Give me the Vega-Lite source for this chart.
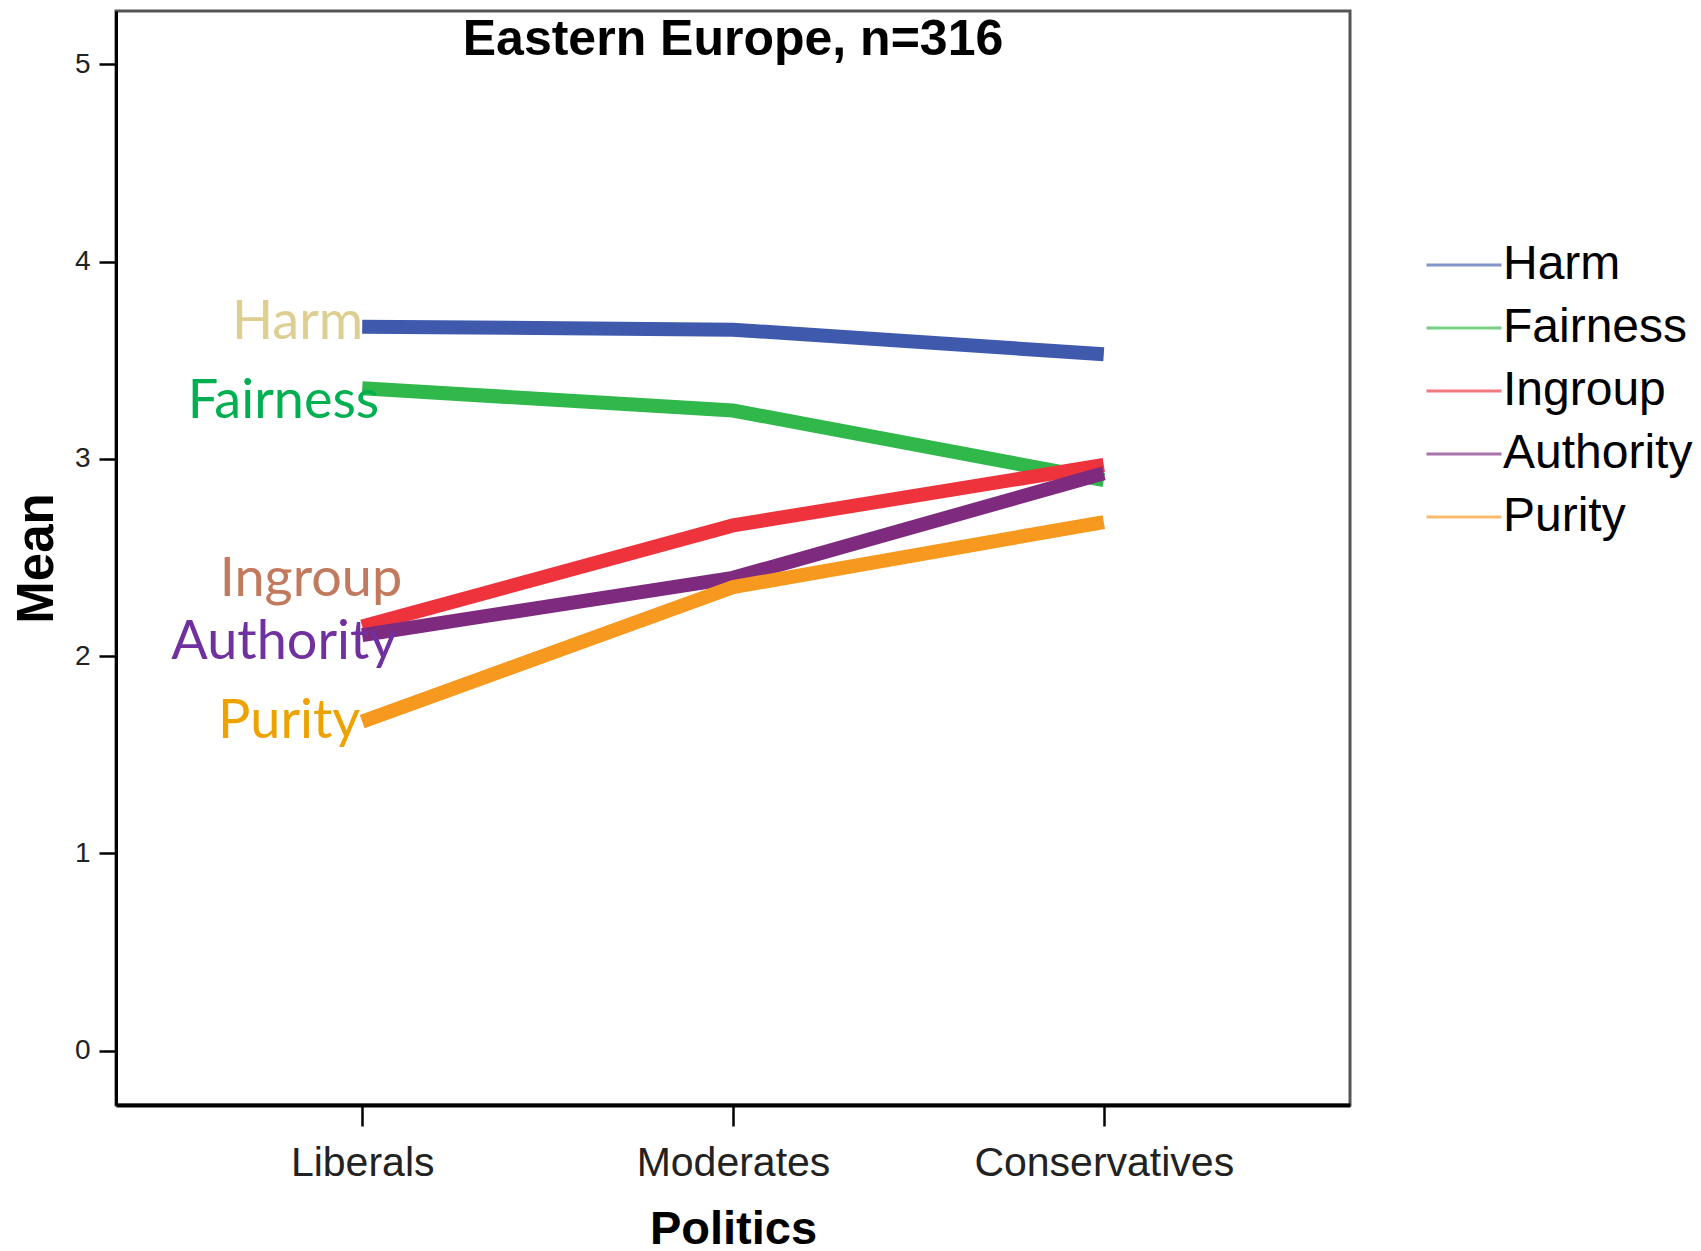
{
  "$schema": "https://vega.github.io/schema/vega-lite/v6.json",
  "width": 1234,
  "height": 1094,
  "autosize": {"type": "none"},
  "padding": {"left": 116, "top": 11, "right": 351, "bottom": 146},
  "background": "white",
  "title": {"text": "Eastern Europe, n=316", "font": "Liberation Sans", "fontSize": 50, "fontWeight": "bold", "color": "black", "anchor": "middle", "baseline": "alphabetic", "offset": -94},
  "config": {"view": {"stroke": "#555", "strokeWidth": 3}, "font": "Liberation Sans"},
  "datasets": {
    "means": [
      {"foundation": "Harm", "politics": "Liberals", "mean": 3.67},
      {"foundation": "Harm", "politics": "Moderates", "mean": 3.655},
      {"foundation": "Harm", "politics": "Conservatives", "mean": 3.53},
      {"foundation": "Fairness", "politics": "Liberals", "mean": 3.358},
      {"foundation": "Fairness", "politics": "Moderates", "mean": 3.245},
      {"foundation": "Fairness", "politics": "Conservatives", "mean": 2.893},
      {"foundation": "Ingroup", "politics": "Liberals", "mean": 2.15},
      {"foundation": "Ingroup", "politics": "Moderates", "mean": 2.663},
      {"foundation": "Ingroup", "politics": "Conservatives", "mean": 2.969},
      {"foundation": "Authority", "politics": "Liberals", "mean": 2.107},
      {"foundation": "Authority", "politics": "Moderates", "mean": 2.397},
      {"foundation": "Authority", "politics": "Conservatives", "mean": 2.927},
      {"foundation": "Purity", "politics": "Liberals", "mean": 1.668},
      {"foundation": "Purity", "politics": "Moderates", "mean": 2.35},
      {"foundation": "Purity", "politics": "Conservatives", "mean": 2.68}
    ],
    "labels": [
      {"label": "Harm", "politics": "Liberals", "mean": 3.606},
      {"label": "Fairness", "politics": "Liberals", "mean": 3.206},
      {"label": "Ingroup", "politics": "Liberals", "mean": 2.307},
      {"label": "Authority", "politics": "Liberals", "mean": 1.986},
      {"label": "Purity", "politics": "Liberals", "mean": 1.585}
    ]
  },
  "layer": [
    {
      "data": {"name": "means"},
      "mark": {"type": "line", "strokeWidth": 14, "strokeCap": "butt"},
      "encoding": {
        "x": {
          "field": "politics", "type": "nominal",
          "scale": {"type": "point", "domain": ["Liberals", "Moderates", "Conservatives"], "padding": 0.664},
          "axis": {"title": "Politics", "titleFont": "Liberation Sans", "titleFontSize": 47, "titleFontWeight": "bold", "titleColor": "black", "titleBaseline": "alphabetic", "titleY": 138, "labelFont": "Liberation Sans", "labelFontSize": 41, "labelColor": "#222", "labelAngle": 0, "labelPadding": 17, "labelLimit": 0, "tickSize": 21, "tickWidth": 2.5, "tickColor": "black", "domainColor": "black", "domainWidth": 4, "grid": false}
        },
        "y": {
          "field": "mean", "type": "quantitative",
          "scale": {"domain": [-0.2747, 5.27], "nice": false, "zero": false},
          "axis": {"title": "Mean", "titleFont": "Liberation Sans", "titleFontSize": 51, "titleFontWeight": "bold", "titleColor": "black", "titleBaseline": "alphabetic", "titleX": -64, "values": [0, 1, 2, 3, 4, 5], "format": "d", "labelFont": "Liberation Sans", "labelFontSize": 28, "labelColor": "#222", "labelPadding": 9, "tickSize": 17, "tickWidth": 2.5, "tickColor": "black", "domainColor": "black", "domainWidth": 3, "grid": false}
        },
        "color": {
          "field": "foundation", "type": "nominal",
          "scale": {"domain": ["Harm", "Fairness", "Ingroup", "Authority", "Purity"], "range": ["#3F5AAD", "#30B84A", "#EE333D", "#7E2A7F", "#F7991F"]},
          "legend": {"orient": "none", "legendX": 1309, "legendY": 215, "title": null, "symbolType": "stroke", "symbolSize": 5625, "symbolStrokeWidth": 3, "symbolOpacity": 0.65, "labelFont": "Liberation Sans", "labelFontSize": 48, "labelColor": "black", "labelOffset": 0, "labelLimit": 0, "rowPadding": 0}
        }
      }
    },
    {
      "data": {"name": "labels"},
      "transform": [{"filter": "datum.label === 'Harm'"}],
      "mark": {"type": "text", "font": "Lato", "fontSize": 54, "align": "right", "baseline": "alphabetic", "dx": 1, "color": "#DDCF92"},
      "encoding": {"x": {"field": "politics", "type": "nominal"}, "y": {"field": "mean", "type": "quantitative"}, "text": {"field": "label"}}
    },
    {
      "data": {"name": "labels"},
      "transform": [{"filter": "datum.label === 'Fairness'"}],
      "mark": {"type": "text", "font": "Lato", "fontSize": 54, "align": "right", "baseline": "alphabetic", "dx": 17, "color": "#00B050"},
      "encoding": {"x": {"field": "politics", "type": "nominal"}, "y": {"field": "mean", "type": "quantitative"}, "text": {"field": "label"}}
    },
    {
      "data": {"name": "labels"},
      "transform": [{"filter": "datum.label === 'Ingroup'"}],
      "mark": {"type": "text", "font": "Lato", "fontSize": 54, "align": "right", "baseline": "alphabetic", "dx": 40, "color": "#C27A5E"},
      "encoding": {"x": {"field": "politics", "type": "nominal"}, "y": {"field": "mean", "type": "quantitative"}, "text": {"field": "label"}}
    },
    {
      "data": {"name": "labels"},
      "transform": [{"filter": "datum.label === 'Authority'"}],
      "mark": {"type": "text", "font": "Lato", "fontSize": 54, "align": "right", "baseline": "alphabetic", "dx": 35, "color": "#7030A0"},
      "encoding": {"x": {"field": "politics", "type": "nominal"}, "y": {"field": "mean", "type": "quantitative"}, "text": {"field": "label"}}
    },
    {
      "data": {"name": "labels"},
      "transform": [{"filter": "datum.label === 'Purity'"}],
      "mark": {"type": "text", "font": "Lato", "fontSize": 54, "align": "right", "baseline": "alphabetic", "dx": -2, "color": "#EEA200"},
      "encoding": {"x": {"field": "politics", "type": "nominal"}, "y": {"field": "mean", "type": "quantitative"}, "text": {"field": "label"}}
    }
  ]
}
